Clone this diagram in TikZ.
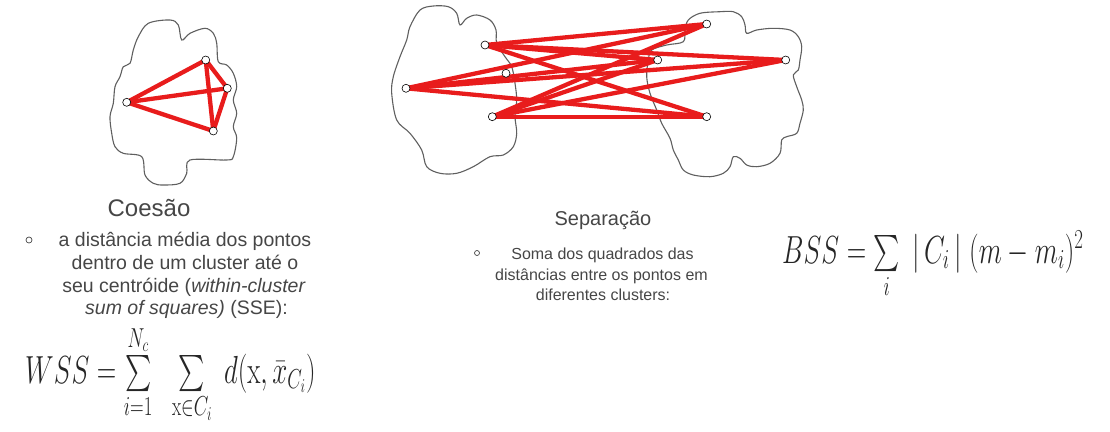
\RequirePackage{fix-cm}
\documentclass[tikz,border=0pt]{standalone}
\usepackage[no-math]{fontspec}
\setmainfont{Liberation Sans}
\usepackage{amsmath}
\usepackage{graphicx}
\pgfdeclarelayer{bg}
\pgfsetlayers{bg,main}
\definecolor{linkred}{RGB}{232,28,28}
\definecolor{txtgray}{RGB}{70,70,70}
\definecolor{cloudgray}{RGB}{95,95,95}
\tikzset{
  pt/.style={circle,draw=black,line width=0.6pt,fill=white,inner sep=0pt,minimum size=8pt},
  link/.style={draw=linkred,line width=4.3pt},
  cloudline/.style={draw=cloudgray,line width=1.1pt},
  titletxt/.style={text=txtgray,inner sep=0pt,anchor=base},
  bodytxt/.style={text=txtgray,inner sep=0pt,anchor=base},
  bullet/.style={circle,draw=txtgray,line width=0.7pt,inner sep=0pt,minimum size=6pt},
  formula/.style={text=black!85,inner sep=0pt,anchor=base west,font=\fontsize{27}{31}\selectfont}
}
\begin{document}
\begin{tikzpicture}[x=1pt,y=-1pt]
\useasboundingbox (0,0) rectangle (1110,431);

% ---------- cluster 1 (cohesion) ----------
\begin{pgfonlayer}{bg}
\draw[cloudline] plot[smooth cycle,tension=0.55] coordinates {
 (148.3,23.3) (170,20) (178.3,25) (181.7,40) (190,33.3) (205,28.3) (213.3,33.3)
 (216.7,43.3) (218.3,61.7) (226.7,65) (233.3,73.3) (236.7,86.7) (233.3,100)
 (236.7,113.3) (233.3,126.7) (236.7,138) (233.3,156.7) (226.7,160) (190,160)
 (186.7,173.3) (180,183.3) (163.3,185) (153.3,183.3) (145,175) (141.7,156.7)
 (123.3,153.3) (115,146.7) (111.7,133.3) (110,116.7) (113.3,103.3) (115,86.7)
 (120,76.7) (123.3,66.7) (130,63.3) (133.3,50) (138.3,36.7)};
\end{pgfonlayer}
\node[pt] (p1) at (126.7,102.3) {};
\node[pt] (p2) at (205.7,60) {};
\node[pt] (p3) at (227.3,88.3) {};
\node[pt] (p4) at (213.3,131) {};
\begin{pgfonlayer}{bg}
\foreach \a/\b in {p1/p2,p1/p3,p1/p4,p2/p3,p2/p4,p3/p4}
  \draw[link] (\a.center) -- (\b.center);
\end{pgfonlayer}

% ---------- clusters 2 and 3 (separation) ----------
\begin{pgfonlayer}{bg}
\draw[cloudline] plot[smooth cycle,tension=0.55] coordinates {
 (420,10) (433.3,6) (448.3,6.7) (456.7,13.3) (460,25) (466.7,18.3) (476.7,15)
 (490,20) (496,30) (496.7,43.3) (505,56.7) (511.7,66.7) (515,83.3) (516.7,100)
 (515,116.7) (516.7,133.3) (513.3,146.7) (503.3,155) (490,156.7) (473.3,166.7)
 (456.7,173.3) (440,173.3) (426.7,166.7) (421.7,150) (410,133.3) (396.7,120)
 (391.7,93.3) (393.3,76.7) (400,56.7) (406.7,40) (410,26.7)};
\draw[cloudline] plot[smooth cycle,tension=0.55] coordinates {
 (688.3,20) (700,13.3) (720,11.7) (733.3,11.7) (741.7,16.7) (745,25) (746.7,33.3)
 (756.7,30) (773.3,28.3) (790,30) (798.3,36.7) (801.7,46.7) (800,60) (798.3,70)
 (793.3,75) (796.7,86.7) (801.7,100) (803.3,110) (800,123.3) (796.7,133.3)
 (786.7,136.7) (781.7,140) (780,153.3) (770,163.3) (756.7,166.7) (746.7,165)
 (740,158.3) (733.3,156.7) (730,166.7) (723.3,173.3) (710,176.7) (693.3,175)
 (683.3,170) (678.3,160) (673.3,150) (670,138.3) (661.7,123.3) (656.7,110)
 (650,93.3) (646.7,76.7) (648.3,60) (651.7,50) (666.7,45) (683.3,41.7) (685,30)};
\end{pgfonlayer}
\node[pt] (a1) at (485,45) {};
\node[pt] (a2) at (406,88.3) {};
\node[pt] (a3) at (506,73.3) {};
\node[pt] (a4) at (492.3,116.7) {};
\node[pt] (b1) at (706.7,24) {};
\node[pt] (b2) at (657.7,60) {};
\node[pt] (b3) at (785.7,60) {};
\node[pt] (b4) at (706.7,116.7) {};
\begin{pgfonlayer}{bg}
\foreach \a in {a1,a2,a4}
  \foreach \b in {b1,b2,b3,b4}
    \draw[link] (\a.center) -- (\b.center);
\end{pgfonlayer}

% ---------- cohesion text ----------
\node[titletxt,font=\fontsize{24}{28}\selectfont] (coesao) at (149,216.7) {Coesão};
\node[bullet] (bul1) at (29,240) {};
\begin{scope}[every node/.style={bodytxt,font=\fontsize{19.5}{22}\selectfont}]
\node (c1) at (185,246) {a distância média dos pontos};
\node (c2) at (185,269) {dentro de um cluster até o};
\node (c3) at (184,292) {seu centróide (\textit{within-cluster}};
\node (c4) at (186.5,314.5) {\textit{sum of squares)} (SSE):};
\end{scope}
\node[formula] (wss) at (25,383)
 {\scalebox{1}[1.45]{$WSS = \sum\limits_{i=1}^{N_c}\;\; \sum\limits_{\mathrm{x}\in C_i}\; d(\mathrm{x},\bar{x}_{C_i})$}};

% ---------- separation text ----------
\node[titletxt,font=\fontsize{20}{24}\selectfont] (separacao) at (603,225) {Separação};
\node[bullet,minimum size=5pt] (bul2) at (477,253) {};
\begin{scope}[every node/.style={bodytxt,font=\fontsize{16}{20}\selectfont}]
\node (s1) at (602.5,259.5) {Soma dos quadrados das};
\node (s2) at (601.5,280) {distâncias entre os pontos em};
\node (s3) at (603,300.5) {diferentes clusters:};
\end{scope}
\node[formula] (bss) at (782,263)
 {\scalebox{1}[1.45]{$BSS = \sum\limits_{i}\;|\,C_i\,|\;(m - m_i)^2$}};
\end{tikzpicture}
\end{document}
